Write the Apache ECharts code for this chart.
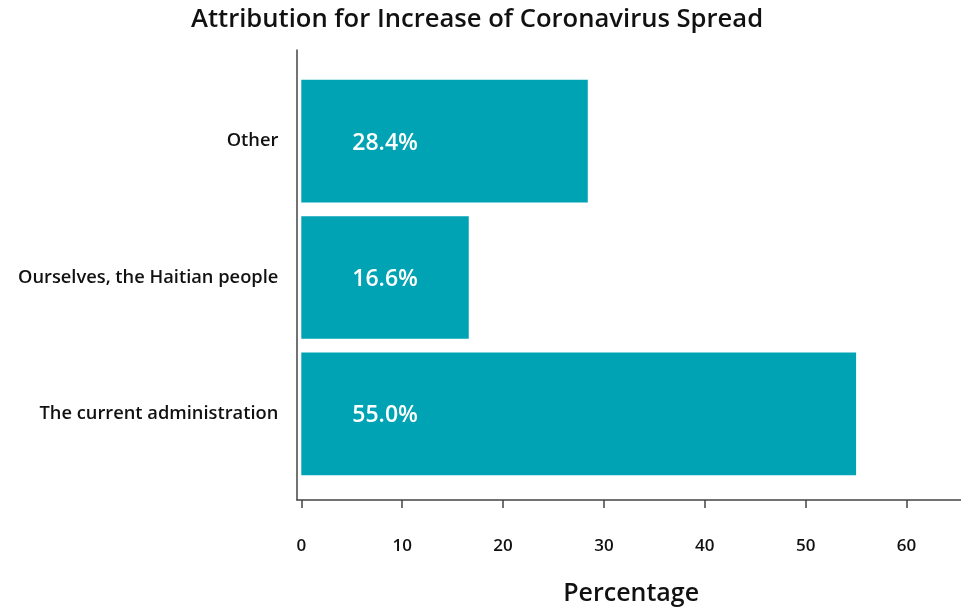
<!DOCTYPE html>
<html>
<head>
<meta charset="utf-8">
<script src="https://cdn.jsdelivr.net/npm/echarts@6/dist/echarts.min.js"></script>
<style>html,body{margin:0;padding:0;background:#fff}#c{width:961px;height:610px}</style>
</head>
<body>
<div id="c"></div>
<script>
const categories = ['The current administration', 'Ourselves, the Haitian people', 'Other'];
const values = [55.0, 16.6, 28.4];
const xTicks = [0, 10, 20, 30, 40, 50, 60];

const FONT = '"Open Sans", sans-serif';
const chart = echarts.init(document.getElementById('c'), null, {renderer: 'canvas'});
chart.setOption({
  animation: false,
  backgroundColor: '#fff',
  title: {
    text: 'Attribution for Increase of Coronavirus Spread',
    left: 186, top: 2,
    textStyle: {fontFamily: FONT, fontSize: 25.6, fontWeight: 600, color: '#111'}
  },
  grid: [
    {left: 297, right: 0, top: 50, bottom: 110, outerBoundsMode: 'none', containLabel: false},
    {left: 301.3, right: 0, top: 73, bottom: 128, outerBoundsMode: 'none', containLabel: false}
  ],
  xAxis: [
    {gridIndex: 0, type: 'value', min: 0, max: 1, axisLine: {show: true, lineStyle: {color: '#444', width: 1.5}},
     axisTick: {show: false}, axisLabel: {show: false}, splitLine: {show: false}},
    {gridIndex: 1, type: 'value', min: xTicks[0], max: 65.4, interval: 10, offset: 18,
     axisLine: {show: false},
     axisTick: {show: true, length: 8, lineStyle: {color: '#444', width: 1.5}},
     axisLabel: {margin: 38, fontFamily: FONT, fontSize: 17, fontWeight: 600, color: '#111', showMaxLabel: false,
       formatter: v => (xTicks.indexOf(v) >= 0 ? String(v) : '')},
     splitLine: {show: false},
     name: 'Percentage', nameLocation: 'middle', nameGap: 81,
     nameTextStyle: {fontFamily: FONT, fontSize: 25, fontWeight: 600, color: '#111'}}
  ],
  yAxis: [
    {gridIndex: 0, type: 'value', min: 0, max: 1, axisLine: {show: true, lineStyle: {color: '#444', width: 1.5}},
     axisTick: {show: false}, axisLabel: {show: false}, splitLine: {show: false}},
    {gridIndex: 1, type: 'category', data: categories,
     axisLine: {show: false}, axisTick: {show: false},
     axisLabel: {margin: 23, fontFamily: FONT, fontSize: 18.3, fontWeight: 600, color: '#111', lineHeight: 22, padding: [4, 0, 0, 0]}}
  ],
  series: [{
    type: 'bar', xAxisIndex: 1, yAxisIndex: 1, data: values,
    barCategoryGap: '10%',
    itemStyle: {color: '#00A3B4'},
    label: {show: true, position: 'insideLeft', distance: 51, offset: [0, 2],
      formatter: p => p.value.toFixed(1) + '%',
      fontFamily: FONT, fontSize: 23, fontWeight: 600, color: '#fff'}
  }]
});
</script>
</body>
</html>
